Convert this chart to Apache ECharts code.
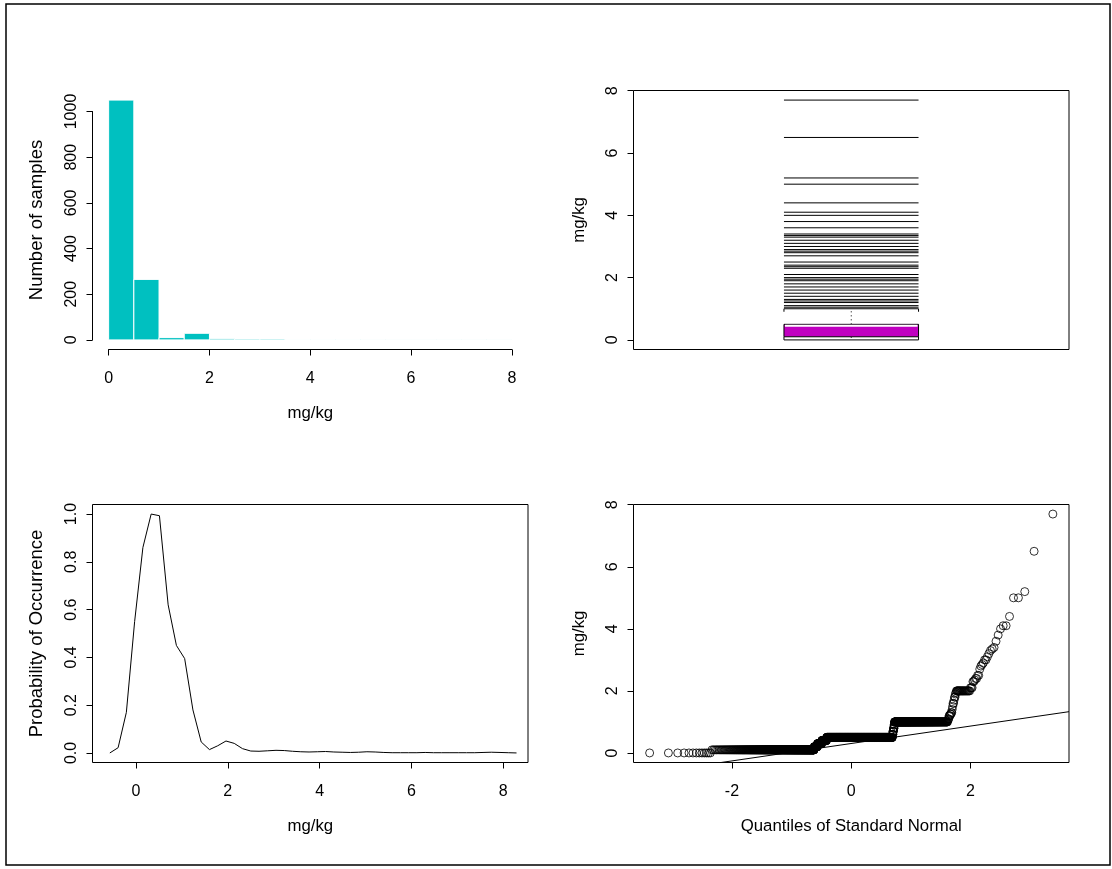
<!DOCTYPE html>
<html>
<head>
<meta charset="utf-8">
<script src="https://cdn.jsdelivr.net/npm/echarts@6/dist/echarts.min.js"></script>
<style>html,body{margin:0;padding:0;background:#fff}#c{width:1112px;height:869px}</style>
</head>
<body>
<div id="c"></div>
<script>
// ---------- DATA ----------
// Histogram (top-left)
const histBreaks = [0, 0.5, 1, 1.5, 2, 2.5, 3, 3.5, 4, 4.5, 5, 5.5, 6, 6.5, 7, 7.5, 8];
const histCounts = [1050, 265, 10, 29, 5, 4, 4, 2, 2, 2, 1, 1, 1, 1, 1, 1];
const histXTicks = [0, 2, 4, 6, 8];
const histYTicks = [0, 200, 400, 600, 800, 1000];

// Sample distribution (distinct values and their counts) used by boxplot & QQ plot
const sampleValues = [0, 0.1, 0.2, 0.3, 0.4, 0.5, 0.6, 0.7, 0.8, 0.9, 1.0,
  1.05, 1.1, 1.2, 1.25, 1.3, 1.4, 1.5, 1.6, 1.7, 1.8, 1.9, 1.95, 2.0,
  2.1, 2.3, 2.35, 2.4, 2.5, 2.7, 2.8, 2.85, 2.9, 3.0, 3.1, 3.2, 3.3, 3.35, 3.4,
  3.6, 3.8, 4.0, 4.1, 4.4, 5.0, 5.2, 6.5, 7.7];
const sampleCounts = [13, 355, 25, 35, 40, 572, 4, 4, 4, 3, 250,
  1, 2, 3, 2, 2, 1, 1, 2, 1, 2, 1, 1, 22,
  3, 2, 1, 2, 2, 1, 1, 1, 1, 2, 1, 1, 1, 1, 1,
  1, 1, 1, 2, 1, 2, 1, 1, 1];

// Boxplot (top-right): lower whisker, Q1, median, Q3, upper whisker
const boxStats = [0, 0.1, 0.5, 0.5, 1.0];
const boxYTicks = [0, 2, 4, 6, 8];

// Density (bottom-left)
const densX = [-0.57, -0.39, -0.21, -0.03, 0.15, 0.33, 0.51, 0.70, 0.88, 1.06,
  1.24, 1.42, 1.60, 1.78, 1.96, 2.14, 2.32, 2.50, 2.68, 2.87,
  3.05, 3.23, 3.41, 3.59, 3.77, 3.95, 4.13, 4.31, 4.49, 4.67,
  4.85, 5.03, 5.21, 5.40, 5.58, 5.76, 5.94, 6.12, 6.30, 6.48,
  6.66, 6.84, 7.02, 7.20, 7.38, 7.56, 7.74, 7.93, 8.11, 8.29];
const densY = [0.000, 0.022, 0.170, 0.550, 0.860, 1.000, 0.993, 0.620, 0.450, 0.395,
  0.180, 0.046, 0.014, 0.030, 0.050, 0.040, 0.018, 0.008, 0.007, 0.009,
  0.011, 0.010, 0.007, 0.005, 0.004, 0.005, 0.006, 0.004, 0.003, 0.002,
  0.003, 0.005, 0.004, 0.002, 0.001, 0.001, 0.001, 0.001, 0.002, 0.001,
  0.001, 0.001, 0.001, 0.001, 0.001, 0.002, 0.003, 0.002, 0.001, 0.000];
const densXTicks = [0, 2, 4, 6, 8];
const densYTicks = [0, 0.2, 0.4, 0.6, 0.8, 1.0];

// QQ plot (bottom-right)
const qqXTicks = [-2, 0, 2];
const qqYTicks = [0, 2, 4, 6, 8];
const qqLineX = [-3.65, 3.65];
const qqLineY = [-0.72, 1.33];

// ---------- LAYOUT ----------
const FONT = "'Liberation Sans', Arial, Helvetica, sans-serif";
const TICK_FS = 16, TITLE_FS = 16.8;
const R = {
  tl: {left: 92.5, top: 90.5, width: 435.5, height: 259, xmin: -0.32, xmax: 8.32, ymin: -42, ymax: 1092},
  tr: {left: 633.5, top: 90.5, width: 435.5, height: 259, xmin: 0, xmax: 1, ymin: -0.308, ymax: 8.008},
  bl: {left: 92.5, top: 504.5, width: 435.5, height: 258, xmin: -0.948, xmax: 8.54, ymin: -0.04, ymax: 1.04},
  br: {left: 633.5, top: 504.5, width: 435.5, height: 258, xmin: -3.65, xmax: 3.65, ymin: -0.308, ymax: 8.008}
};
const BOX_HALF = 0.1545;

function xpx(r, v) { return r.left + (v - r.xmin) / (r.xmax - r.xmin) * r.width; }
function ypx(r, v) { return r.top + (r.ymax - v) / (r.ymax - r.ymin) * r.height; }

const grids = [], xAxes = [], yAxes = [], series = [];
function addGrid(g) {
  grids.push(Object.assign({containLabel: false, outerBoundsMode: 'none', show: false}, g));
  return grids.length - 1;
}
const hiddenParts = {axisLine: {show: false}, axisTick: {show: false}, axisLabel: {show: false}, splitLine: {show: false}};

function dataGrid(r, boxed, xName, yName, yNameSize) {
  const gi = addGrid({left: r.left, top: r.top, width: r.width, height: r.height,
    show: boxed, borderColor: '#000', borderWidth: 1, backgroundColor: 'transparent'});
  xAxes.push(Object.assign({type: 'value', gridIndex: gi, min: r.xmin, max: r.xmax,
    name: xName || '', nameLocation: 'middle', nameGap: 55,
    nameTextStyle: {fontSize: TITLE_FS, color: '#000', fontFamily: FONT}}, hiddenParts));
  yAxes.push(Object.assign({type: 'value', gridIndex: gi, min: r.ymin, max: r.ymax,
    name: yName || '', nameLocation: 'middle', nameGap: 46,
    nameTextStyle: {fontSize: yNameSize || TITLE_FS, color: '#000', fontFamily: FONT}}, hiddenParts));
  return gi;
}
function xDisp(r, ticks, showLine) {
  const l = xpx(r, ticks[0]), rr = xpx(r, ticks[ticks.length - 1]);
  const gi = addGrid({left: l, top: r.top, width: rr - l, height: r.height});
  xAxes.push({type: 'value', gridIndex: gi, min: ticks[0], max: ticks[ticks.length - 1],
    interval: ticks[1] - ticks[0],
    axisLine: {show: showLine, lineStyle: {color: '#000', width: 1}},
    axisTick: {show: true, inside: false, length: 6, lineStyle: {color: '#000', width: 1}},
    axisLabel: {show: true, margin: 21, color: '#000', fontSize: TICK_FS, fontFamily: FONT,
      showMinLabel: true, showMaxLabel: true, hideOverlap: false},
    splitLine: {show: false}});
  yAxes.push(Object.assign({type: 'value', gridIndex: gi, min: 0, max: 1, show: false}, hiddenParts));
}
function yDisp(r, ticks, showLine, fmt) {
  const t = ypx(r, ticks[ticks.length - 1]), b = ypx(r, ticks[0]);
  const gi = addGrid({left: r.left, top: t, width: r.width, height: b - t});
  xAxes.push(Object.assign({type: 'value', gridIndex: gi, min: 0, max: 1, show: false}, hiddenParts));
  yAxes.push({type: 'value', gridIndex: gi, min: ticks[0], max: ticks[ticks.length - 1],
    interval: ticks[1] - ticks[0],
    axisLine: {show: showLine, lineStyle: {color: '#000', width: 1}},
    axisTick: {show: true, inside: false, length: 6, lineStyle: {color: '#000', width: 1}},
    axisLabel: {show: true, rotate: 90, margin: 13, color: '#000', fontSize: TICK_FS, fontFamily: FONT,
      showMinLabel: true, showMaxLabel: true, hideOverlap: false,
      formatter: fmt || (v => String(v))},
    splitLine: {show: false}});
}

// ---------- PANEL 1: histogram ----------
const gTL = dataGrid(R.tl, false, 'mg/kg', 'Number of samples', 18.5);
xDisp(R.tl, histXTicks, true);
yDisp(R.tl, histYTicks, true);
series.push({
  type: 'custom', xAxisIndex: gTL, yAxisIndex: gTL, clip: false,
  data: histCounts.map((c, i) => [histBreaks[i], histBreaks[i + 1], c]),
  encode: {x: [0, 1], y: 2},
  renderItem: function (params, api) {
    const p0 = api.coord([api.value(0), 0]);
    const p1 = api.coord([api.value(1), api.value(2)]);
    return {type: 'rect', shape: {x: p0[0], y: p1[1], width: p1[0] - p0[0], height: p0[1] - p1[1]},
      style: {fill: '#00C0C0', stroke: '#ffffff', lineWidth: 1}};
  }
});

// ---------- PANEL 2: boxplot ----------
const gTR = dataGrid(R.tr, true, '', 'mg/kg');
yDisp(R.tr, boxYTicks, false);
const boxOutliers = sampleValues.filter(v => v > boxStats[4]);
series.push({
  type: 'custom', xAxisIndex: gTR, yAxisIndex: gTR, clip: false,
  data: [[0.5].concat(boxStats)],
  renderItem: function (params, api) {
    const xc = api.value(0), lo = api.value(1), q1 = api.value(2), med = api.value(3), q3 = api.value(4), hi = api.value(5);
    const L = api.coord([xc - BOX_HALF, q1]), Rt = api.coord([xc + BOX_HALF, q3]);
    const xl = L[0], xr = Rt[0], xm = api.coord([xc, 0])[0];
    const yq1 = L[1], yq3 = Rt[1];
    const ymed = api.coord([xc, med])[1], ylo = api.coord([xc, lo])[1], yhi = api.coord([xc, hi])[1];
    const ln = {stroke: '#000', lineWidth: 1, fill: 'none'};
    return {type: 'group', children: [
      {type: 'line', shape: {x1: xm, y1: yq3, x2: xm, y2: yhi}, style: {stroke: '#000', lineWidth: 1, lineDash: [1, 3]}},
      {type: 'line', shape: {x1: xm, y1: yq1, x2: xm, y2: ylo}, style: {stroke: '#000', lineWidth: 1, lineDash: [1, 3]}},
      {type: 'polyline', shape: {points: [[xl, yhi + 3], [xl, yhi], [xr, yhi], [xr, yhi + 3]]}, style: ln},
      {type: 'polyline', shape: {points: [[xl, ylo - 3], [xl, ylo], [xr, ylo], [xr, ylo - 3]]}, style: ln},
      {type: 'rect', shape: {x: xl, y: yq3, width: xr - xl, height: yq1 - yq3}, style: {fill: '#C000C0', stroke: '#000', lineWidth: 1}},
      {type: 'line', shape: {x1: xl + 1, y1: ymed + 1.5, x2: xr - 1, y2: ymed + 1.5}, style: {stroke: '#ffffff', lineWidth: 2}}
    ]};
  }
});
series.push({
  type: 'custom', xAxisIndex: gTR, yAxisIndex: gTR, clip: false,
  data: boxOutliers.map(v => [0.5, v]),
  renderItem: function (params, api) {
    const a = api.coord([api.value(0) - BOX_HALF, api.value(1)]);
    const b = api.coord([api.value(0) + BOX_HALF, api.value(1)]);
    return {type: 'line', shape: {x1: a[0], y1: a[1], x2: b[0], y2: b[1]}, style: {stroke: '#000', lineWidth: 1}};
  }
});

// ---------- PANEL 3: density ----------
const gBL = dataGrid(R.bl, true, 'mg/kg', 'Probability of Occurrence', 18.5);
xDisp(R.bl, densXTicks, false);
yDisp(R.bl, densYTicks, false, v => v.toFixed(1));
series.push({
  type: 'line', xAxisIndex: gBL, yAxisIndex: gBL, showSymbol: false, symbol: 'none',
  data: densX.map((x, i) => [x, densY[i]]),
  lineStyle: {color: '#000', width: 1}
});

// ---------- PANEL 4: QQ plot ----------
function qnorm(p) {
  const a = [-3.969683028665376e+01, 2.209460984245205e+02, -2.759285104469687e+02, 1.383577518672690e+02, -3.066479806614716e+01, 2.506628277459239e+00];
  const b = [-5.447609879822406e+01, 1.615858368580409e+02, -1.556989798598866e+02, 6.680131188771972e+01, -1.328068155288572e+01];
  const c = [-7.784894002430293e-03, -3.223964580411365e-01, -2.400758277161838e+00, -2.549732539343734e+00, 4.374664141464968e+00, 2.938163982698783e+00];
  const d = [7.784695709041462e-03, 3.224671290700398e-01, 2.445134137142996e+00, 3.754408661907416e+00];
  const pl = 0.02425, ph = 1 - pl;
  let q, r;
  if (p < pl) { q = Math.sqrt(-2 * Math.log(p)); return (((((c[0]*q+c[1])*q+c[2])*q+c[3])*q+c[4])*q+c[5]) / ((((d[0]*q+d[1])*q+d[2])*q+d[3])*q+1); }
  if (p > ph) { q = Math.sqrt(-2 * Math.log(1 - p)); return -(((((c[0]*q+c[1])*q+c[2])*q+c[3])*q+c[4])*q+c[5]) / ((((d[0]*q+d[1])*q+d[2])*q+d[3])*q+1); }
  q = p - 0.5; r = q * q;
  return (((((a[0]*r+a[1])*r+a[2])*r+a[3])*r+a[4])*r+a[5])*q / (((((b[0]*r+b[1])*r+b[2])*r+b[3])*r+b[4])*r+1);
}
const sorted = [];
sampleValues.forEach((v, i) => { for (let k = 0; k < sampleCounts[i]; k++) sorted.push(v); });
sorted.sort((x, y) => x - y);
const N = sorted.length;
const qqPoints = sorted.map((v, i) => [qnorm((i + 0.5) / N), v]);

const gBR = dataGrid(R.br, true, 'Quantiles of Standard Normal', 'mg/kg');
xDisp(R.br, qqXTicks, false);
yDisp(R.br, qqYTicks, false);
series.push({
  type: 'scatter', xAxisIndex: gBR, yAxisIndex: gBR, symbol: 'circle', symbolSize: 8,
  large: false, progressive: 0,
  data: qqPoints,
  itemStyle: {color: 'rgba(0,0,0,0)', borderColor: '#000', borderWidth: 1}
});
series.push({
  type: 'line', xAxisIndex: gBR, yAxisIndex: gBR, showSymbol: false, symbol: 'none', clip: true,
  data: qqLineX.map((x, i) => [x, qqLineY[i]]),
  lineStyle: {color: '#000', width: 1}
});

// ---------- CHART ----------
const chart = echarts.init(document.getElementById('c'), null, {renderer: 'canvas'});
chart.setOption({
  animation: false,
  backgroundColor: '#ffffff',
  textStyle: {fontFamily: FONT, color: '#000'},
  grid: grids,
  xAxis: xAxes,
  yAxis: yAxes,
  series: series,
  graphic: [{type: 'rect', silent: true, z: 100,
    shape: {x: 6, y: 4, width: 1104, height: 861},
    style: {fill: 'none', stroke: '#000', lineWidth: 1.5}}]
});
</script>
</body>
</html>
